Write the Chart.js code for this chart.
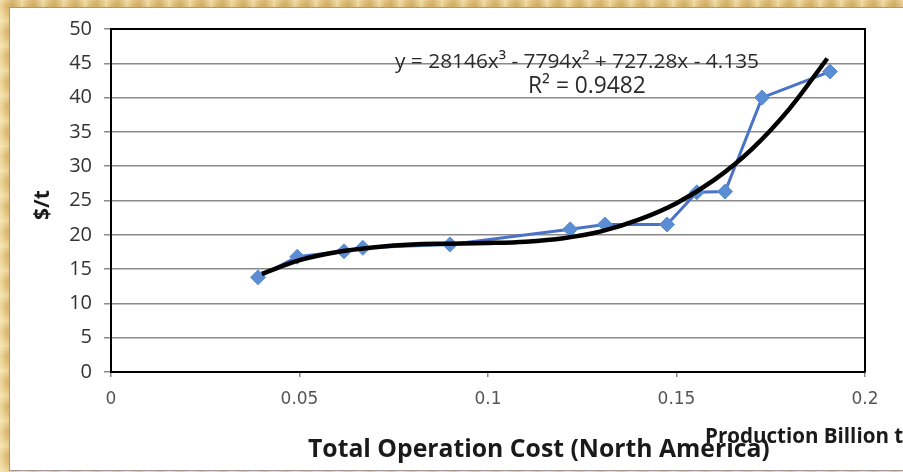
<!DOCTYPE html>
<html>
<head>
<meta charset="utf-8">
<script src="https://cdn.jsdelivr.net/npm/chart.js@4.4.0/dist/chart.umd.min.js"></script>
<style>
  html, body { margin:0; padding:0; width:903px; height:472px; overflow:hidden; }
  body {
    background:
      repeating-linear-gradient(90deg, rgba(255,245,205,0.55) 0px, rgba(255,245,205,0) 7px, rgba(160,120,40,0.18) 13px, rgba(255,245,205,0.35) 21px),
      repeating-linear-gradient(0deg, rgba(255,245,205,0.45) 0px, rgba(255,245,205,0) 9px, rgba(160,120,40,0.15) 16px, rgba(255,245,205,0.3) 25px),
      #e2c07a;
    position: relative;
  }
  #panel {
    position:absolute; left:9px; top:7px; width:900px; height:462px;
    background:#ffffff; border:1px solid #9a9a9a;
  }
  #c { position:absolute; left:0; top:0; }
</style>
</head>
<body>
<div id="panel"></div>
<canvas id="c" width="903" height="472"></canvas>
<script>
// ---- data ----
const costX = [0.039, 0.0494, 0.0618, 0.0668, 0.0899, 0.1218, 0.131, 0.1475, 0.1554, 0.1629, 0.1727, 0.1907];
const costY = [13.8, 16.8, 17.6, 18.1, 18.6, 20.8, 21.5, 21.5, 26.2, 26.3, 40.0, 43.8];
const trendX = [0.04, 0.05, 0.06, 0.07, 0.08, 0.09, 0.10, 0.11, 0.12, 0.13, 0.14, 0.15, 0.16, 0.17, 0.18, 0.19];
const trendY = [14.3, 16.3, 17.5, 18.2, 18.6, 18.7, 18.8, 19.0, 19.5, 20.5, 22.2, 24.6, 28.0, 32.5, 38.4, 45.7];
const xTicks = [0, 0.05, 0.1, 0.15, 0.2];
const xTickLabels = ['0', '0.05', '0.1', '0.15', '0.2'];
const yTicks = [0, 5, 10, 15, 20, 25, 30, 35, 40, 45, 50];
const equationText = 'y = 28146x\u00B3 - 7794x\u00B2 + 727.28x - 4.135';
const r2Text = 'R\u00B2 = 0.9482';
const xTitle = 'Total Operation Cost (North America)';
const xTitle2 = 'Production Billion t';
const yTitle = '$/t';

const costPoints = costX.map((x, i) => ({x: x, y: costY[i]}));
const trendPoints = trendX.map((x, i) => ({x: x, y: trendY[i]}));

function fitFont(ctx, text, weight, family, targetW) {
  let size = 30;
  ctx.font = weight + ' ' + size + 'px ' + family;
  const w = ctx.measureText(text).width;
  return size * targetW / w;
}

const textPlugin = {
  id: 'textPlugin',
  afterDraw(chart) {
    const ctx = chart.ctx;
    const a = chart.chartArea;
    ctx.save();
    // top and right border of plot area
    ctx.strokeStyle = '#000';
    ctx.lineWidth = 2;
    ctx.beginPath();
    ctx.moveTo(a.left, a.top);
    ctx.lineTo(a.right, a.top);
    ctx.lineTo(a.right, a.bottom);
    ctx.stroke();

    const fam = '"Open Sans", "Liberation Sans", sans-serif';
    ctx.fillStyle = '#2a2a2a';
    ctx.textBaseline = 'alphabetic';
    ctx.textAlign = 'left';
    let s = fitFont(ctx, equationText, 'normal', fam, 364);
    ctx.font = 'normal ' + s + 'px ' + fam;
    ctx.fillText(equationText, 395, 68);
    s = fitFont(ctx, r2Text, 'normal', fam, 118);
    ctx.font = 'normal ' + s + 'px ' + fam;
    ctx.fillText(r2Text, 528, 93);

    // axis titles
    ctx.fillStyle = '#1a1a1a';
    s = fitFont(ctx, xTitle, 'bold', fam, 462);
    ctx.font = 'bold ' + s + 'px ' + fam;
    ctx.fillText(xTitle, 308, 457);
    s = fitFont(ctx, 'Production Billion', 'bold', fam, 184);
    ctx.font = 'bold ' + s + 'px ' + fam;
    ctx.fillText(xTitle2, 705, 443);

    ctx.translate(49, 205);
    ctx.rotate(-Math.PI / 2);
    ctx.textAlign = 'center';
    ctx.font = 'bold 21px ' + fam;
    ctx.fillText(yTitle, 0, 0);
    ctx.restore();
  }
};

new Chart(document.getElementById('c'), {
  type: 'scatter',
  data: {
    datasets: [
      {
        label: 'Trend',
        data: trendPoints,
        showLine: true,
        borderColor: '#000000',
        borderWidth: 4.5,
        pointRadius: 0,
        cubicInterpolationMode: 'monotone',
        order: 0
      },
      {
        label: 'Cost',
        data: costPoints,
        showLine: true,
        borderColor: '#4a72c8',
        borderWidth: 3,
        pointStyle: 'rectRot',
        pointRadius: 7.5,
        pointBackgroundColor: '#5b8dd4',
        pointBorderColor: '#5b8dd4',
        pointBorderWidth: 1,
        tension: 0,
        order: 1
      }
    ]
  },
  options: {
    responsive: false,
    devicePixelRatio: 1,
    animation: false,
    layout: { padding: { left: 0, top: 29, right: 38, bottom: 0 } },
    plugins: { legend: { display: false }, tooltip: { enabled: false } },
    scales: {
      x: {
        type: 'linear',
        min: 0, max: 0.2,
        afterFit(scale) { scale.height = 100; },
        afterBuildTicks(scale) { scale.ticks = xTicks.map(v => ({value: v})); },
        ticks: {
          padding: 12,
          color: '#555',
          font: { family: '"DejaVu Sans", sans-serif', size: 17 },
          callback: (v) => { const i = xTicks.indexOf(v); return i >= 0 ? xTickLabels[i] : ''; },
          maxRotation: 0
        },
        grid: { drawOnChartArea: false, drawTicks: true, tickLength: 5, color: '#888', lineWidth: 1.5 },
        border: { display: true, color: '#000', width: 2 }
      },
      y: {
        type: 'linear',
        min: 0, max: 50,
        afterFit(scale) { scale.width = 111; },
        afterBuildTicks(scale) { scale.ticks = yTicks.map(v => ({value: v})); },
        ticks: {
          padding: 12,
          color: '#333',
          font: { family: '"Open Sans", sans-serif', size: 20 }
        },
        grid: { color: '#8a8a8a', lineWidth: 1.5, tickLength: 7 },
        border: { display: true, color: '#000', width: 2 }
      }
    }
  },
  plugins: [textPlugin]
});
</script>
</body>
</html>
